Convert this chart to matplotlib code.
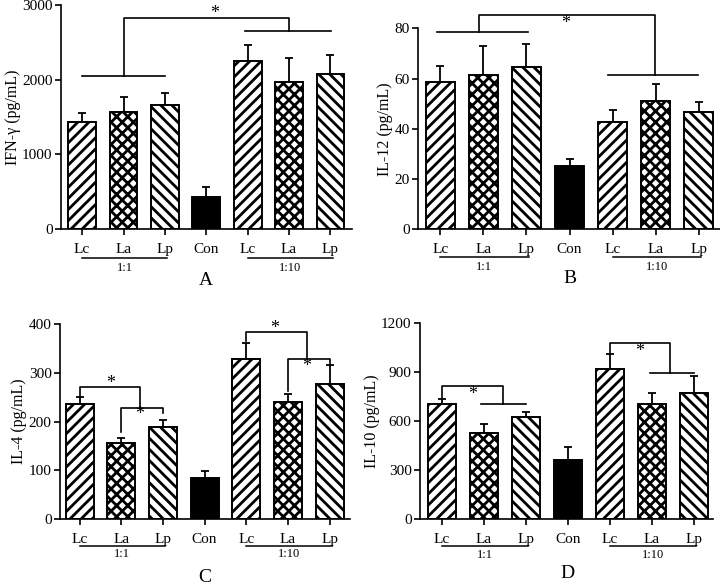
import numpy as np
import matplotlib
matplotlib.use("Agg")
import matplotlib.pyplot as plt
import matplotlib.transforms as mtransforms

plt.rcParams['font.family'] = ['Liberation Serif', 'DejaVu Serif']
plt.rcParams['hatch.linewidth'] = 2.0
plt.rcParams['hatch.color'] = 'black'

# data
groups = ["Lc", "La", "Lp", "Con", "Lc", "La", "Lp"]
hatches = ["///", "xxx", "\\\\\\", "", "///", "xxx", "\\\\\\"]

ifn_mean = [1433, 1562, 1660, 424, 2254, 1964, 2080]
ifn_err = [116, 201, 161, 138, 214, 326, 254]

il12_mean = [58.6, 61.6, 64.7, 25.3, 42.7, 51.2, 46.8]
il12_err = [6.2, 11.5, 9.1, 2.8, 4.9, 6.6, 4.0]

il4_mean = [235, 155, 189, 83, 328, 240, 277]
il4_err = [15, 12, 14, 15, 34, 17, 39]

il10_mean = [705, 529, 624, 360, 920, 707, 773]
il10_err = [31, 52, 32, 80, 90, 64, 102]

W, H = 720, 586
fig = plt.figure(figsize=(W / 100, H / 100), dpi=100)

def make_ax(left, right, top, bottom):
    return fig.add_axes([left / W, 1 - bottom / H, (right - left) / W, (bottom - top) / H])

def bars(ax, mean, err, ylim, yticks, ylabel, xlim):
    x = np.arange(len(mean))
    for i in range(len(mean)):
        if hatches[i] == "":
            ax.bar(x[i], mean[i], width=0.67, color='black', edgecolor='black', linewidth=1.4, zorder=2)
        else:
            ax.bar(x[i], mean[i], width=0.67, color='white', edgecolor='black',
                   hatch=hatches[i], linewidth=1.4, zorder=2)
    ax.errorbar(x, mean, yerr=[np.zeros(len(err)), err], fmt='none', ecolor='black',
                elinewidth=1.3, capsize=3, capthick=1.3, zorder=1)
    ax.set_xlim(*xlim)
    ax.set_ylim(*ylim)
    ax.set_yticks(yticks)
    ax.set_xticks(x)
    ax.set_xticklabels(groups)
    ax.spines['top'].set_visible(False)
    ax.spines['right'].set_visible(False)
    for s in ['left', 'bottom']:
        ax.spines[s].set_linewidth(1.2)
    ax.tick_params(width=1.2, length=4, labelsize=11, pad=2)
    ax.tick_params(axis='x', pad=6)
    ax.set_ylabel(ylabel, fontsize=11.5, labelpad=1)

def group_lines(ax, line_px, text_px, letter_px, letter):
    hpx = ax.get_position().height * H
    trans = mtransforms.blended_transform_factory(ax.transData, ax.transAxes)
    for x1, x2, lab in [(0, 2.05, "1:1"), (4, 6.05, "1:10")]:
        ax.plot([x1, x2], [-line_px / hpx] * 2, color='black', lw=1.1, transform=trans, clip_on=False)
        ax.text((x1 + x2) / 2, -text_px / hpx, lab, transform=trans, ha='center', va='center', fontsize=9)
    ax.text(3, -letter_px / hpx, letter, transform=trans, ha='center', va='center', fontsize=14)

def bracket(ax, pts):
    xs = [p[0] for p in pts]
    ys = [p[1] for p in pts]
    ax.plot(xs, ys, color='black', lw=1.2, clip_on=False, zorder=3)

def star(ax, x, y):
    ax.text(x, y, "*", ha='center', va='center', fontsize=13, clip_on=False)

# A
axA = make_ax(61, 352, 5, 229)
bars(axA, ifn_mean, ifn_err, (0, 3000), [0, 1000, 2000, 3000], "IFN-\u03b3 (pg/mL)", (-0.51, 6.52))
group_lines(axA, 29, 39.5, 52, "A")
bracket(axA, [(0, 2050), (2, 2050)])
bracket(axA, [(1, 2050), (1, 2826), (5, 2826), (5, 2656)])
bracket(axA, [(3.94, 2656), (6.01, 2656)])
star(axA, 3.2, 2880)

# B
axB = make_ax(418, 720, 28.3, 229.3)
bars(axB, il12_mean, il12_err, (0, 80), [0, 20, 40, 60, 80], "IL-12 (pg/mL)", (-0.515, 6.49))
group_lines(axB, 27.4, 37.8, 49, "B")
bracket(axB, [(-0.08, 78.5), (2.03, 78.5)])
bracket(axB, [(0.9, 78.5), (0.9, 85.2), (4.98, 85.2), (4.98, 61.4)])
bracket(axB, [(3.89, 61.4), (5.98, 61.4)])
star(axB, 2.92, 82.0)

# C
axC = make_ax(60, 350, 324.3, 518.7)
bars(axC, il4_mean, il4_err, (0, 400), [0, 100, 200, 300, 400], "IL-4 (pg/mL)", (-0.47, 6.49))
group_lines(axC, 27.3, 35.5, 58.6, "C")
bracket(axC, [(0, 251), (0, 271), (1.45, 271), (1.45, 227)])
bracket(axC, [(1, 179), (1, 227), (2, 227), (2, 217)])
star(axC, 0.74, 278)
star(axC, 1.45, 214)
bracket(axC, [(4, 365), (4, 384), (5.46, 384), (5.46, 329)])
bracket(axC, [(5, 262), (5, 329), (6, 329), (6, 318)])
star(axC, 4.69, 392)
star(axC, 5.46, 314)

# D
axD = make_ax(420, 712.7, 323.3, 519)
bars(axD, il10_mean, il10_err, (0, 1200), [0, 300, 600, 900, 1200], "IL-10 (pg/mL)", (-0.516, 6.45))
group_lines(axD, 27, 36.5, 54.3, "D")
bracket(axD, [(0, 740), (0, 817), (1.45, 817), (1.45, 703)])
bracket(axD, [(0.93, 703), (2.0, 703)])
star(axD, 0.74, 765)
bracket(axD, [(4, 1010), (4, 1081), (5.43, 1081), (5.43, 893)])
bracket(axD, [(4.95, 893), (6.0, 893)])
star(axD, 4.71, 1030)

fig.savefig("out.png", dpi=100)
